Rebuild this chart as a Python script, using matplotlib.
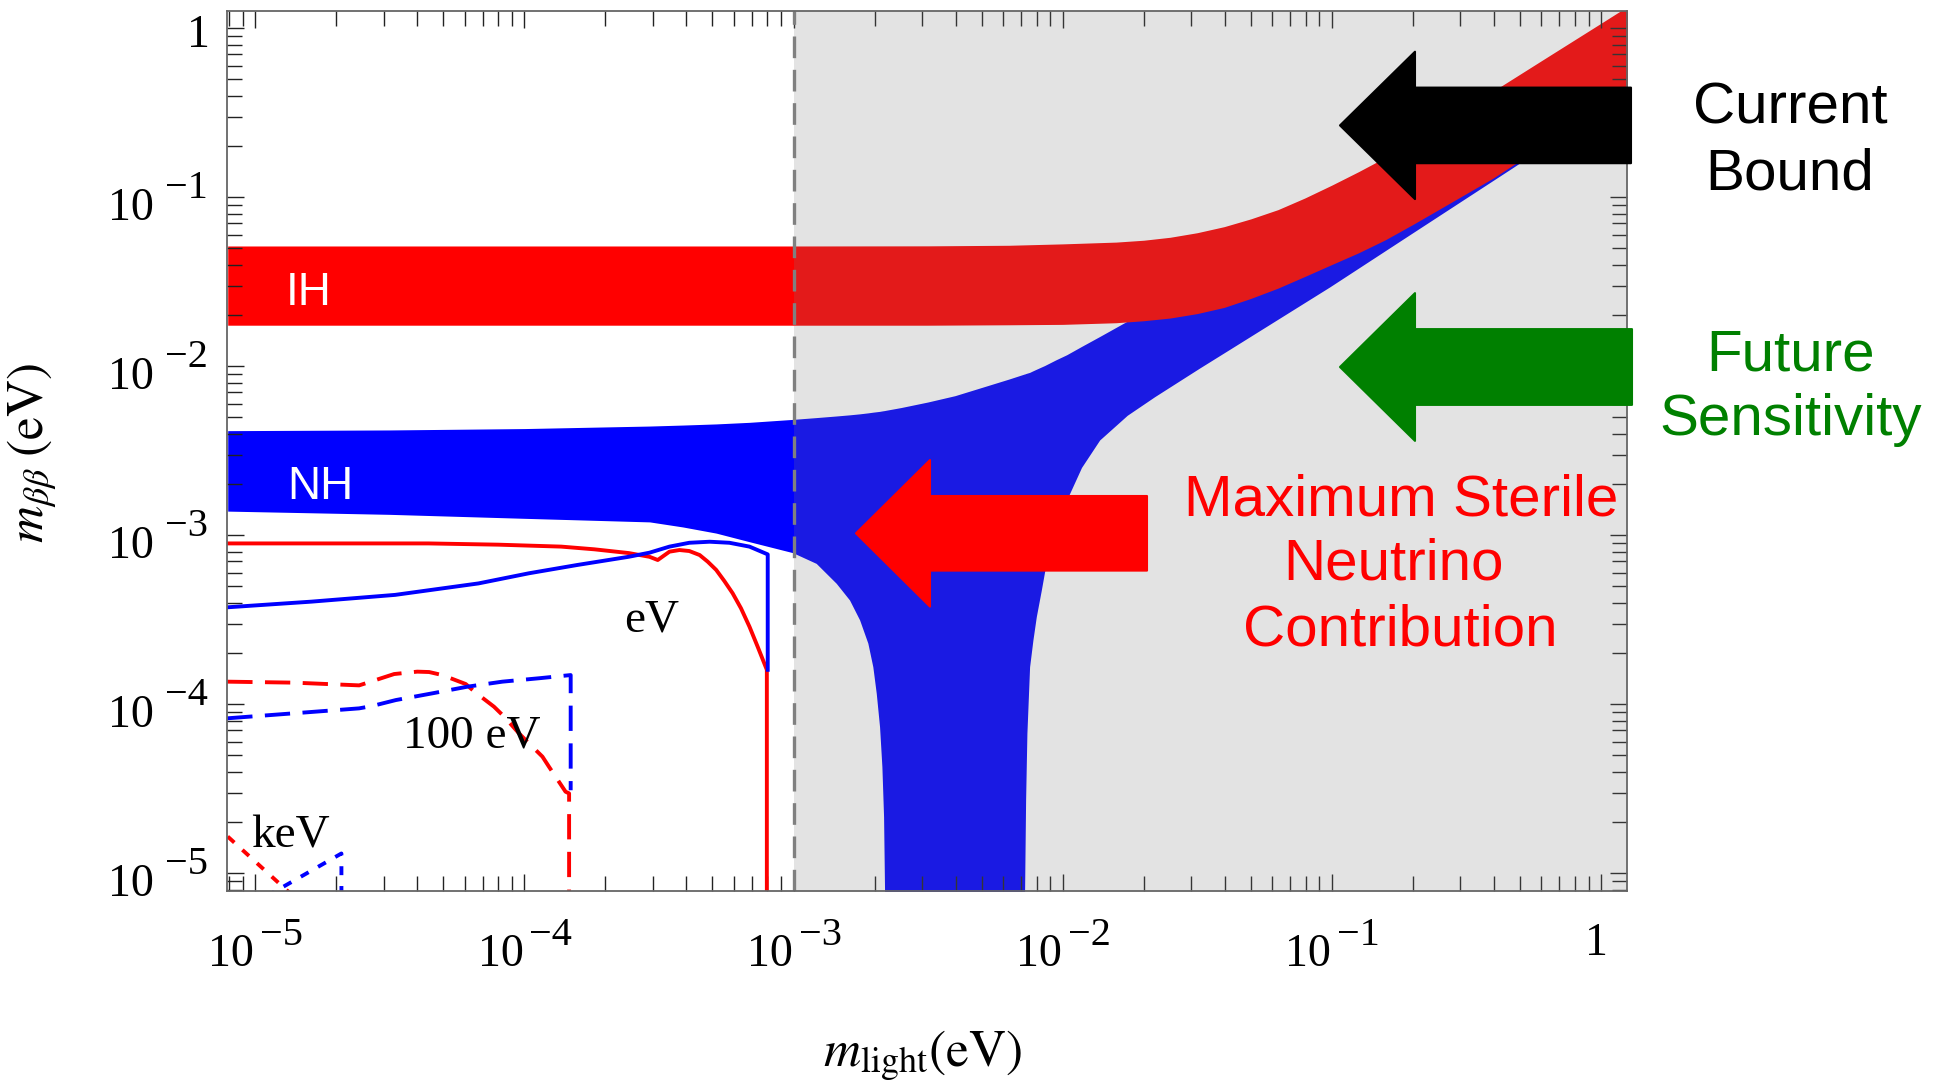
import numpy as np
import matplotlib
matplotlib.use("Agg")
import matplotlib.pyplot as plt
from matplotlib.patches import Polygon
from matplotlib.ticker import LogLocator, NullFormatter
from matplotlib.transforms import blended_transform_factory, offset_copy

plt.rcParams['mathtext.fontset'] = 'stix'
plt.rcParams['font.family'] = ['Liberation Serif', 'DejaVu Serif']

# ---------------- data (all in eV) ----------------
# inverted hierarchy band
ih_m = [7.9e-6, 1e-3, 3.16e-3, 6.31e-3, 0.01, 0.0158, 0.02, 0.0251, 0.0316, 0.0398,
        0.05, 0.0631, 0.0794, 0.1, 0.126, 0.158, 0.2, 0.251, 0.398, 0.631, 1.0, 1.26]
ih_upper = [0.0515, 0.0515, 0.0516, 0.052, 0.053, 0.0543, 0.0557, 0.058, 0.0617,
            0.067, 0.0745, 0.0845, 0.099, 0.118, 0.142, 0.172, 0.213, 0.27, 0.425,
            0.675, 1.07, 1.35]
ih_lower = [0.0175, 0.0175, 0.0175, 0.0176, 0.0177, 0.0181, 0.0186, 0.0193, 0.0205,
            0.0223, 0.0252, 0.029, 0.034, 0.040, 0.047, 0.056, 0.069, 0.085, 0.13,
            0.21, 0.33, 0.42]

# normal hierarchy band (the lower edge falls out of the plot in the funnel)
nh_m = [7.9e-6, 3.16e-5, 1.0e-4, 2.92e-4, 3.88e-4, 5.16e-4, 6.86e-4, 9.94e-4,
        1.214e-3, 1.441e-3, 1.615e-3, 1.76e-3, 1.889e-3, 1.971e-3, 2.03e-3,
        2.088e-3, 2.13e-3, 2.161e-3, 2.179e-3, 2.19e-3, 2.51e-3, 3.16e-3, 3.98e-3,
        5.01e-3, 6.31e-3, 7.21e-3, 7.222e-3, 7.285e-3, 7.366e-3, 7.537e-3, 7.754e-3,
        7.982e-3, 8.332e-3, 8.571e-3, 9.42e-3, 0.01035, 0.01175, 0.013725, 0.01738,
        0.02198, 0.0323, 0.04176, 0.0983, 0.2, 0.471, 1.25]
nh_upper = [0.00416, 0.0042, 0.00428, 0.00443, 0.00449, 0.00456, 0.00466, 0.00485,
            0.00497, 0.00508, 0.00516, 0.00523, 0.0053, 0.00535, 0.00538,
            0.00541, 0.00544, 0.00546, 0.00547, 0.00548, 0.0057, 0.00615, 0.0067,
            0.0075, 0.0084, 0.0090, 0.0090, 0.00905, 0.0091, 0.0092, 0.0094,
            0.0096, 0.0099, 0.0101, 0.0109, 0.0117, 0.0131, 0.0150, 0.0185,
            0.0231, 0.0335, 0.043, 0.099, 0.20, 0.47, 1.25]
nh_lower = [0.00139, 0.00133, 0.00126, 0.0012, 0.00112, 0.00103, 0.000916, 0.000789,
            0.000682, 0.00052, 0.000414, 0.000316, 0.00023, 0.000167, 0.000116,
            7.36e-5, 4.28e-5, 2.16e-5, 7.96e-6, 1e-6, 1e-6, 1e-6, 1e-6,
            1e-6, 1e-6, 1e-6, 7.96e-6, 2.72e-5, 6.73e-5, 1.667e-4, 2.4e-4,
            3.3e-4, 4.74e-4, 6.1e-4, 1.06e-3, 1.618e-3, 2.52e-3, 3.664e-3, 5.13e-3,
            6.61e-3, 9.77e-3, 0.0126, 0.0295, 0.0617, 0.150, 0.42]

# sterile contribution for m_s = 1 eV
ev_red_m = [7.9e-6, 4.4e-5, 8e-5, 1.37e-4, 1.82e-4, 2.44e-4, 2.917e-4, 3.13e-4,
            3.46e-4, 3.77e-4, 4.1e-4, 4.48e-4, 4.8e-4, 5.16e-4, 5.53e-4, 5.94e-4,
            6.38e-4, 6.86e-4, 7.36e-4, 7.96e-4, 7.96e-4]
ev_red_y = [8.95e-4, 8.95e-4, 8.8e-4, 8.57e-4, 8.26e-4, 7.85e-4, 7.46e-4, 7.14e-4,
            8.0e-4, 8.18e-4, 8.07e-4, 7.64e-4, 6.98e-4, 6.24e-4, 5.37e-4, 4.54e-4,
            3.70e-4, 2.88e-4, 2.19e-4, 1.6e-4, 1e-6]
ev_blue_m = [7.9e-6, 1.62e-5, 3.31e-5, 6.75e-5, 1.04e-4, 1.57e-4, 2.44e-4, 2.917e-4,
             3.46e-4, 4.1e-4, 4.88e-4, 5.78e-4, 6.86e-4, 8.02e-4, 8.02e-4]
ev_blue_y = [3.75e-4, 4.05e-4, 4.44e-4, 5.19e-4, 5.96e-4, 6.67e-4, 7.46e-4, 7.89e-4,
             8.57e-4, 9.03e-4, 9.16e-4, 9.03e-4, 8.57e-4, 7.71e-4, 1.6e-4]

# m_s = 100 eV
hev_red_m = [7.87e-6, 1.393e-5, 2.432e-5, 2.685e-5, 3.281e-5, 4.0e-5, 4.426e-5,
             4.955e-5, 6.053e-5, 6.592e-5, 7.709e-5, 8.414e-5, 9.55e-5, 1.04e-4,
             1.167e-4, 1.233e-4, 1.422e-4, 1.466e-4, 1.466e-4]
hev_red_y = [1.361e-4, 1.343e-4, 1.294e-4, 1.361e-4, 1.51e-4, 1.56e-4, 1.552e-4,
             1.489e-4, 1.318e-4, 1.172e-4, 9.68e-5, 8.45e-5, 6.73e-5, 5.87e-5,
             4.9e-5, 4.28e-5, 3.04e-5, 2.97e-5, 1e-6]
hev_blue_m = [7.87e-6, 2.432e-5, 2.72e-5, 3.327e-5, 4.55e-5, 6.14e-5, 8.28e-5,
              1.135e-4, 1.486e-4, 1.486e-4]
hev_blue_y = [8.26e-5, 9.46e-5, 9.77e-5, 1.059e-4, 1.161e-4, 1.271e-4, 1.361e-4,
              1.426e-4, 1.489e-4, 3.1e-5]

# m_s = 1 keV
kev_red_m = [7.9e-6, 1.4e-5]
kev_red_y = [1.65e-5, 7.2e-6]
kev_blue_m = [1.1e-5, 2.09e-5, 2.09e-5]
kev_blue_y = [7.3e-6, 1.31e-5, 7.0e-6]

# decade ticks: label = base with a superscript power
tick_values = [1e-5, 1e-4, 1e-3, 1e-2, 1e-1, 1]
tick_bases = ['10', '10', '10', '10', '10', '1']
tick_powers = ['\u22125', '\u22124', '\u22123', '\u22122', '\u22121', '']

# ---------------- figure ----------------
W, H = 1945, 1085
fig = plt.figure(figsize=(W / 100, H / 100), dpi=100)
ax = fig.add_axes([227 / W, 1 - 890.7 / H, 1400 / W, 880 / H])
ax.set_xscale('log')
ax.set_yscale('log')

ax.fill_between(nh_m, nh_lower, nh_upper, color='#0000ff', lw=0, zorder=1)
ax.fill_between(ih_m, ih_lower, ih_upper, color='#ff0000', lw=0, zorder=1.5)

# grey shading to the right of 1 meV
ax.axvspan(1e-3, 2.0, color=(0.49, 0.49, 0.49), alpha=0.21, lw=0, zorder=2)
ax.axvline(1e-3, color='#808080', lw=2.4, dashes=(6.5, 3.5), zorder=4)

lw = 2.8
ax.plot(ev_red_m, ev_red_y, color='#ff0000', lw=lw, zorder=3)
ax.plot(ev_blue_m, ev_blue_y, color='#0000ff', lw=lw, zorder=3)
ax.plot(hev_red_m, hev_red_y, color='#ff0000', lw=lw, dashes=(6.5, 3.2), zorder=3)
ax.plot(hev_blue_m, hev_blue_y, color='#0000ff', lw=lw, dashes=(6.5, 3.2), zorder=3)
ax.plot(kev_red_m, kev_red_y, color='#ff0000', lw=lw, dashes=(2.3, 2.8), zorder=3)
ax.plot(kev_blue_m, kev_blue_y, color='#0000ff', lw=lw, dashes=(2.3, 2.8), zorder=3)

ax.set_xlim(10 ** -5.105, 10 ** 0.097)
ax.set_ylim(10 ** -5.103, 10 ** 0.104)

ax.set_xticks(tick_values)
ax.set_yticks(tick_values)
for axis in (ax.xaxis, ax.yaxis):
    axis.set_minor_locator(LogLocator(base=10, subs=np.arange(2, 10)))
    axis.set_minor_formatter(NullFormatter())
ax.tick_params(which='both', direction='in', top=True, right=True,
               color='#222222', width=1.0, labelbottom=False, labelleft=False)
ax.tick_params(which='major', length=12)
ax.tick_params(which='minor', length=11)
for sp in ax.spines.values():
    sp.set_color('#666666')
    sp.set_linewidth(1.3)
    sp.set_zorder(5)

# Mathematica-style tick labels with full size exponents
xt = blended_transform_factory(ax.transData, ax.transAxes)
yt = blended_transform_factory(ax.transAxes, ax.transData)


def put(trans, x, y, dx, dy, s, size, ha):
    ax.text(x, y, s, fontsize=size, ha=ha, va='baseline', clip_on=False,
            transform=offset_copy(trans, fig=fig, x=dx, y=dy, units='points'))


for v, b, p in zip(tick_values, tick_bases, tick_powers):
    if p:
        put(xt, v, 0, -0.7, -54.2, b, 33, 'right')
        put(xt, v, 0, 3.6, -39.1, p, 29, 'left')
        put(yt, 0, v, -52.6, -16.6, b, 33, 'right')
        put(yt, 0, v, -13.7, -0.7, p, 29, 'right')
    else:
        put(xt, v, 0, -2.9, -46.3, b, 33, 'center')
        put(yt, 0, v, -12.5, -13.2, b, 33, 'right')

ax.set_xlabel(r'$m_{\mathrm{light}}(\mathrm{eV})$', fontsize=37)
ax.xaxis.set_label_coords(0.497, -0.157)
ax.set_ylabel(r'$m_{\beta\beta}\;(\mathrm{eV})$', fontsize=37)
ax.yaxis.set_label_coords(-0.12, 0.497)

# labels inside the plot
ax.text(1.30e-5, 0.0231, 'IH', color='white', fontsize=33,
        family='Liberation Sans', va='baseline', zorder=6)
ax.text(1.31e-5, 1.64e-3, 'NH', color='white', fontsize=33,
        family='Liberation Sans', va='baseline', zorder=6)
ax.text(2.96e-4, 2.68e-4, 'eV', fontsize=34, ha='center', va='baseline', zorder=6)
ax.text(6.35e-5, 5.58e-5, '100 eV', fontsize=34, ha='center', va='baseline', zorder=6)
ax.text(1.35e-5, 1.43e-5, 'keV', fontsize=34, ha='center', va='baseline', zorder=6)


# block arrows, given in canvas pixels
def block_arrow(tip_x, tail_x, yc, head_len, head_half, shaft_half, color):
    pts = [(tip_x, yc), (tip_x + head_len, yc - head_half),
           (tip_x + head_len, yc - shaft_half), (tail_x, yc - shaft_half),
           (tail_x, yc + shaft_half), (tip_x + head_len, yc + shaft_half),
           (tip_x + head_len, yc + head_half)]
    pts = [(x / W, 1 - y / H) for x, y in pts]
    fig.add_artist(Polygon(pts, closed=True, facecolor=color, edgecolor=color,
                           lw=1.5, joinstyle='round', transform=fig.transFigure,
                           zorder=10))


block_arrow(1340, 1631, 125.4, 75, 73.7, 37.8, '#000000')
block_arrow(1340, 1632, 367, 75, 73.9, 37.9, '#008000')
block_arrow(856, 1147, 533.3, 74, 73.3, 37.3, '#ff0000')

side_text = [
    ('Current', 1790, 123, '#000000'),
    ('Bound', 1790, 189, '#000000'),
    ('Future', 1791, 370, '#008000'),
    ('Sensitivity', 1791, 435, '#008000'),
    ('Maximum Sterile', 1401, 515, '#ff0000'),
    ('Neutrino', 1393, 580, '#ff0000'),
    ('Contribution', 1400, 646, '#ff0000'),
]
for txt, x, y, c in side_text:
    fig.text(x / W, 1 - y / H, txt, color=c, fontsize=42, family='Liberation Sans',
             ha='center', va='baseline', zorder=11)

fig.savefig('out.png', dpi=100)
